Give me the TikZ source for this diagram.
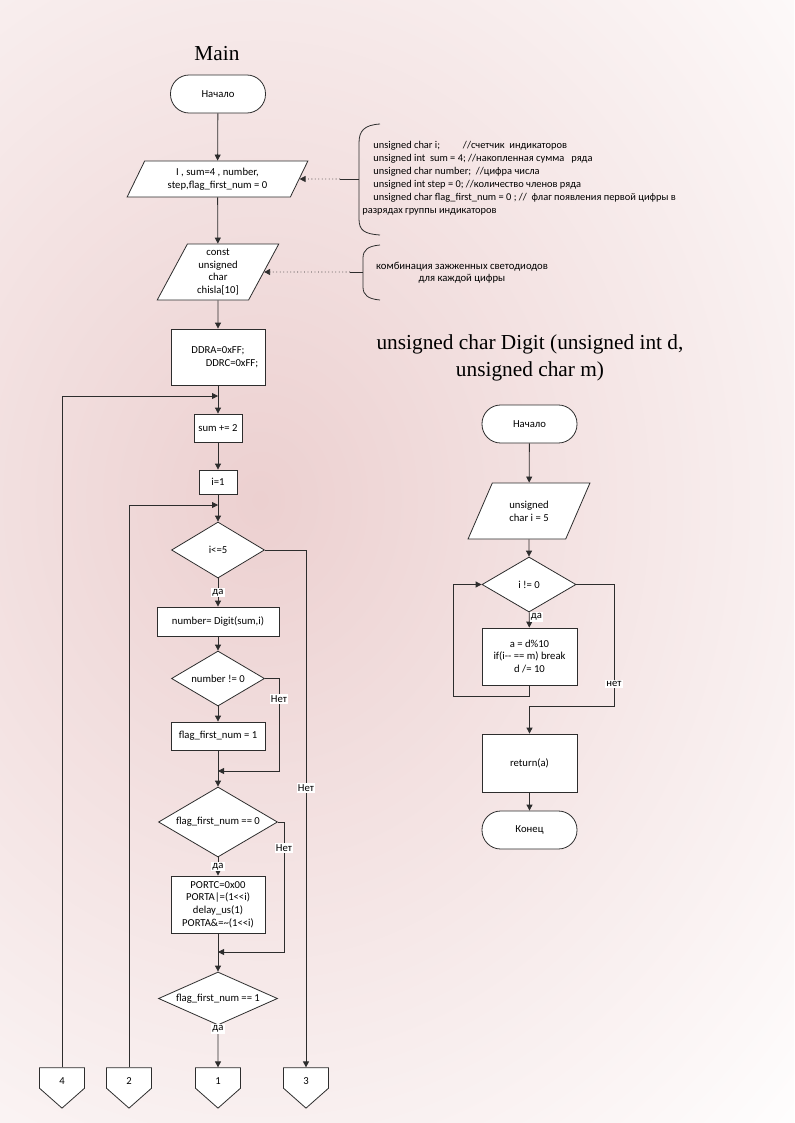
\documentclass[tikz,border=0pt]{standalone}
\usepackage{fontspec}
\setmainfont{Carlito}
\newfontfamily\titlefont{Liberation Serif}
\usetikzlibrary{shapes.geometric,shapes.symbols,arrows.meta}

\definecolor{bgpink}{RGB}{236,208,208}
\definecolor{linegray}{RGB}{45,45,45}

\tikzstyle{term} = [rectangle, draw=linegray, fill=white, rounded corners=14pt,
	minimum width=71.25pt, minimum height=28.5pt]
\tikzstyle{block} = [rectangle, draw=linegray, fill=white, align=center, inner sep=1pt]
\tikzstyle{io} = [trapezium, draw=linegray, fill=white, align=center, inner sep=1pt,
	trapezium stretches=true]
\tikzstyle{decision} = [diamond, draw=linegray, fill=white, aspect=2.2, inner sep=0pt]
\tikzstyle{offpage} = [signal, signal to=south, signal pointer angle=97, draw=linegray,
	fill=white, minimum width=33.75pt, minimum height=18pt, inner sep=1pt,
	text height=9pt, text depth=0pt]
\tikzstyle{line} = [draw=linegray, -{Triangle[length=4.5pt,width=4.5pt]}]
\tikzstyle{note} = [draw=linegray, dotted, -{Triangle[length=4.5pt,width=4.5pt]}]
\tikzstyle{lbl} = [fill=white, inner sep=1pt]
\tikzstyle{title} = [font=\titlefont\fontsize{16}{20.5}\selectfont, align=center]
\tikzstyle{annot} = [font=\fontsize{7.8}{9.75}\selectfont, inner sep=0pt]

\begin{document}
\begin{tikzpicture}[x=0.75pt, y=-0.75pt, line width=0.6pt,
	font=\fontsize{8}{9.5}\selectfont]
	\useasboundingbox (0,0) rectangle (794,1123);
	\begin{scope}
		\clip (0,0) rectangle (794,1123);
		\shade[inner color=bgpink, outer color=white] (260,500) ellipse (780 and 920);
	\end{scope}
	
	\node [title] (mainttl) at (217,54) {Main};
	\node [title] (digttl) at (530,358) {unsigned char Digit (unsigned int d,\\unsigned char m)};
	
	% Main
	\node [term] (start) at (218,94) {Начало};
	\node [io, trapezium left angle=63.4, trapezium right angle=116.6,
		minimum width=135.75pt, minimum height=27pt] (vars) at (217.5,179)
		{I , sum=4 , number,\\step,flag\_first\_num = 0};
	\node [io, trapezium left angle=65.9, trapezium right angle=114.1,
		minimum width=91.5pt, minimum height=42pt] (chisla) at (218,272)
		{const\\unsigned\\char\\chisla[10]};
	\node [block, minimum width=70.5pt, minimum height=42pt] (ddr) at (218,357)
		{DDRA=0xFF;\\\hspace*{21pt}DDRC=0xFF;};
	\node [block, minimum width=36pt, minimum height=21pt] (sum) at (218,428) {sum += 2};
	\node [block, minimum width=28.5pt, minimum height=18pt] (ione) at (218,482) {i=1};
	\node [decision, minimum width=69.75pt, minimum height=42pt] (ile) at (218,550) {i<=5};
	\node [block, minimum width=91.5pt, minimum height=21.75pt] (num) at (218,621.5)
		{number= Digit(sum,i)};
	\node [decision, minimum width=69.75pt, minimum height=41.25pt] (numnz) at (218,678.5)
		{number != 0};
	\node [block, minimum width=70.5pt, minimum height=21pt] (flagset) at (218,736)
		{flag\_first\_num = 1};
	\node [decision, minimum width=89.25pt, minimum height=52.5pt] (flagz) at (218,822)
		{flag\_first\_num == 0};
	\node [block, minimum width=70.5pt, minimum height=42.75pt] (port) at (218,904.5)
		{PORTC=0x00\\PORTA|=(1<{}<i)\\delay\_us(1)\\PORTA\&=\textasciitilde(1<{}<i)};
	\node [decision, minimum width=89.25pt, minimum height=39.75pt] (flagone) at (218,998.5)
		{flag\_first\_num == 1};
	
	\node [offpage] (cfour) at (62,1078) {4};
	\node [offpage] (ctwo) at (129,1078) {2};
	\node [offpage] (cone) at (218,1078) {1};
	\node [offpage] (cthree) at (306,1078) {3};
	
	\coordinate (loopA) at (218,396);
	\coordinate (loopB) at (218,505);
	\coordinate (joinA) at (218,771);
	\coordinate (joinB) at (218,952);
	\coordinate (nzA) at (279,678.5);
	\coordinate (nzB) at (284,822);
	
	\path [line] (start) -- (vars);
	\path [line] (vars) -- (chisla);
	\path [line] (chisla) -- (ddr);
	\path [line] (ddr) -- (sum);
	\path [line] (sum) -- (ione);
	\path [line] (ione) -- (ile);
	\path [line] (ile) -- node [lbl] {да} (num);
	\path [line] (num) -- (numnz);
	\path [line] (numnz) -- (flagset);
	\path [line] (flagset) -- (flagz);
	\path [line] (flagz) -- node [lbl] {да} (port);
	\path [line] (port) -- (flagone);
	\path [line] (flagone) -- node [lbl, pos=0.08] {да} (cone);
	
	\path [line] (cfour.north) |- (loopA);
	\path [line] (ctwo.north) |- (loopB);
	\path [line] (ile.east) -| node [lbl, pos=0.73] {Нет} (cthree.north);
	\path [line] (numnz.east) -- (nzA) |- node [lbl, pos=0.11] {Нет} (joinA);
	\path [line] (flagz.east) -- (nzB) |- node [lbl, pos=0.1] {Нет} (joinB);
	
	% annotations
	\coordinate (stemA) at (340,179);
	\coordinate (stemB) at (350,272);
	\draw [linegray] (380,124) .. controls (364,125) and (359,131) .. (359,143)
		-- (359,219) .. controls (359,230) and (364,234) .. (380,235);
	\draw [linegray] (359,179) -- (stemA);
	\path [note] (stemA) -- (vars.east);
	\node [annot, anchor=north west, align=left] (varsnote) at (362,141)
		{\hspace*{8.25pt}unsigned char i;\hspace{2.2em}//счетчик\ \ индикаторов\\
		\hspace*{8.25pt}unsigned int\ \ sum = 4; //накопленная сумма\ \ \ ряда\\
		\hspace*{8.25pt}unsigned char number;\ \ //цифра числа\\
		\hspace*{8.25pt}unsigned int step = 0; //количество членов ряда\\
		\hspace*{8.25pt}unsigned char flag\_first\_num = 0 ; //\ \ флаг появления первой цифры в\\
		разрядах группы индикаторов};
	\draw [linegray] (380,245) .. controls (368,246) and (363,250) .. (363,258)
		-- (363,287) .. controls (363,295) and (368,299) .. (380,300);
	\draw [linegray] (363,272) -- (stemB);
	\path [note] (stemB) -- (chisla.east);
	\node [annot, align=center, font=\fontsize{8}{9}\selectfont] (chislanote) at (462,272.5)
		{комбинация зажженных светодиодов\\для каждой цифры};
	
	% Digit
	\node [term] (dstart) at (529.5,424) {Начало};
	\node [io, trapezium left angle=58.7, trapezium right angle=121.3,
		minimum width=91.5pt, minimum height=42pt] (dvar) at (529,511)
		{unsigned\\char i = 5};
	\node [decision, minimum width=70.5pt, minimum height=41.25pt] (inz) at (529,584.5) {i != 0};
	\node [block, minimum width=71.25pt, minimum height=42.75pt] (body) at (529.5,656.5)
		{a = d\%10\\if(i-{}- == m) break\\d /= 10};
	\node [block, minimum width=71.25pt, minimum height=43.5pt] (ret) at (529.5,763) {return(a)};
	\node [term] (dend) at (529.5,830) {Конец};
	
	\coordinate (back) at (453,696);
	\coordinate (out) at (614,706);
	
	\path [line] (dstart) -- (dvar);
	\path [line] (dvar) -- (inz);
	\path [line] (inz) -- node [lbl, anchor=west, pos=0.3] {да} (body);
	\path [line] (body.south) |- (back) |- (inz.west);
	\path [line] (inz.east) -| node [lbl, pos=0.91] {нет} (out) -| (ret.north);
	\path [line] (ret) -- (dend);
\end{tikzpicture}
\end{document}
